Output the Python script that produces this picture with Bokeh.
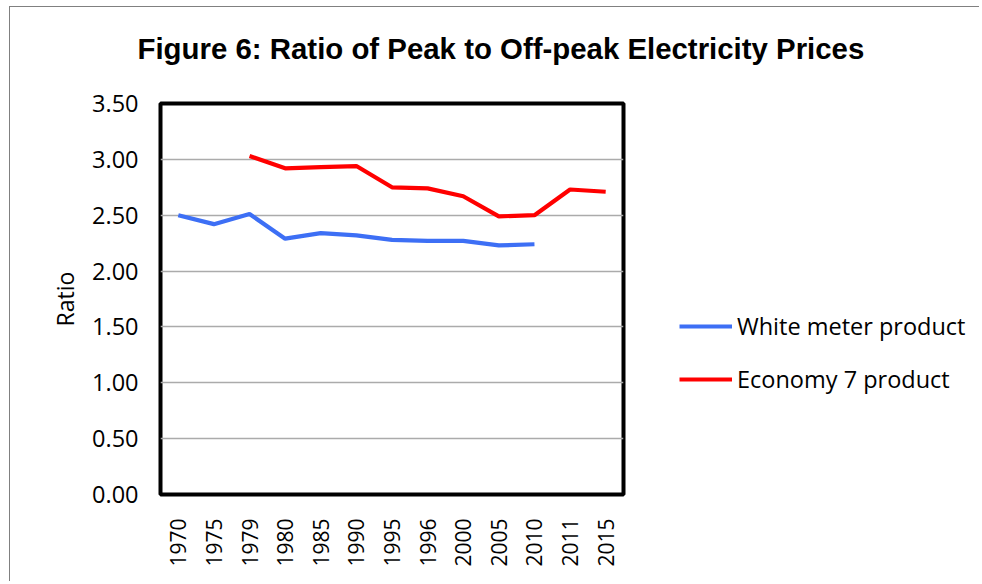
import math
from bokeh.plotting import figure
from bokeh.layouts import row, column
from bokeh.models import (FactorRange, Range1d, FixedTicker, NumeralTickFormatter, Legend,
                          LegendItem, ColumnDataSource, Label)
from bokeh.embed import file_html
from bokeh.resources import INLINE

years = ["1970", "1975", "1979", "1980", "1985", "1990", "1995", "1996",
         "2000", "2005", "2010", "2011", "2015"]
white_years = ["1970", "1975", "1979", "1980", "1985", "1990", "1995", "1996",
               "2000", "2005", "2010"]
white_meter = [2.50, 2.42, 2.51, 2.29, 2.34, 2.32, 2.28, 2.27, 2.27, 2.23, 2.24]
e7_years = ["1979", "1980", "1985", "1990", "1995", "1996", "2000", "2005",
            "2010", "2011", "2015"]
economy7 = [3.03, 2.92, 2.93, 2.94, 2.75, 2.74, 2.67, 2.49, 2.50, 2.73, 2.71]
y_ticks = [0.0, 0.5, 1.0, 1.5, 2.0, 2.5, 3.0, 3.5]
series_names = ["White meter product", "Economy 7 product"]
series_colors = ["#3D6FF5", "#FF0000"]

title_text = "Figure 6: Ratio of Peak to Off-peak Electricity Prices"

src_w = ColumnDataSource(dict(x=white_years, y=white_meter))
src_r = ColumnDataSource(dict(x=e7_years, y=economy7))

# title strip
TH = 80
pt = figure(width=970, height=TH, x_range=Range1d(0, 970), y_range=Range1d(0, TH),
            output_backend="svg", toolbar_location=None,
            x_axis_type=None, y_axis_type=None,
            min_border_left=0, min_border_right=0, min_border_top=0, min_border_bottom=0)
pt.styles = {"border-top": "1px solid #808080", "border-left": "1px solid #808080"}
pt.outline_line_color = None
pt.xgrid.grid_line_color = None
pt.ygrid.grid_line_color = None
pt.add_layout(Label(x=127, y=TH - 40.5, text=title_text, text_font="Liberation Sans",
                    text_font_size="29.4px", text_font_style="bold", text_color="black",
                    text_align="left", text_baseline="alphabetic"))

# main chart
p = figure(width=630, height=495, x_range=FactorRange(*years), y_range=Range1d(0, 3.5),
           output_backend="svg", toolbar_location=None,
           min_border_left=150, min_border_right=17, min_border_top=17, min_border_bottom=87)
p.styles = {"border-left": "1px solid #808080"}

p.outline_line_color = "black"
p.outline_line_width = 4
p.xgrid.grid_line_color = None
p.ygrid.grid_line_color = "#ABABAB"
p.ygrid.grid_line_width = 1.5

p.yaxis.ticker = FixedTicker(ticks=y_ticks)
p.yaxis.formatter = NumeralTickFormatter(format="0.00")
p.yaxis.axis_line_color = None
p.yaxis.major_tick_line_color = None
p.yaxis.minor_tick_line_color = None
p.yaxis.major_label_text_font = "Open Sans"
p.yaxis.major_label_text_font_size = "23.5px"
p.yaxis.major_label_text_color = "black"
p.yaxis.major_label_standoff = 16
p.yaxis.axis_label = "Ratio"
p.yaxis.axis_label_text_font = "Open Sans"
p.yaxis.axis_label_text_font_size = "23px"
p.yaxis.axis_label_text_font_style = "normal"
p.yaxis.axis_label_text_color = "black"
p.yaxis.axis_label_standoff = 8

p.xaxis.axis_line_color = None
p.xaxis.major_tick_line_color = None
p.xaxis.minor_tick_line_color = None
p.xaxis.major_label_orientation = math.pi / 2
p.xaxis.major_label_text_font = "Open Sans"
p.xaxis.major_label_text_font_size = "21px"
p.xaxis.major_label_text_color = "black"
p.xaxis.major_label_standoff = 18

p.line("x", "y", source=src_w, line_color=series_colors[0], line_width=4.2)
p.line("x", "y", source=src_r, line_color=series_colors[1], line_width=4.2)

# legend panel (separate canvas to the right of the plot frame)
pl = figure(width=340, height=495, x_range=FactorRange(*years), y_range=Range1d(0, 3.5),
            output_backend="svg", toolbar_location=None,
            x_axis_type=None, y_axis_type=None,
            min_border_left=0, min_border_right=0, min_border_top=0, min_border_bottom=0)
pl.outline_line_color = None
pl.xgrid.grid_line_color = None
pl.ygrid.grid_line_color = None
lw = pl.line("x", "y", source=src_w, line_color=series_colors[0], line_width=4.2, visible=False)
lr = pl.line("x", "y", source=src_r, line_color=series_colors[1], line_width=4.2, visible=False)

legend = Legend(items=[LegendItem(label=series_names[0], renderers=[lw]),
                       LegendItem(label=series_names[1], renderers=[lr])],
                location=(40, 99), orientation="vertical",
                padding=0, margin=0, spacing=21,
                glyph_width=53, glyph_height=32, label_height=32, label_standoff=5,
                label_text_font="Open Sans", label_text_font_size="23.5px",
                label_text_color="black",
                border_line_color=None, background_fill_alpha=0)
pl.add_layout(legend, "center")

layout = column(pt, row(p, pl, spacing=0), margin=(6, 0, 0, 9), spacing=0)

open("out.html", "w").write(file_html(layout, INLINE))
